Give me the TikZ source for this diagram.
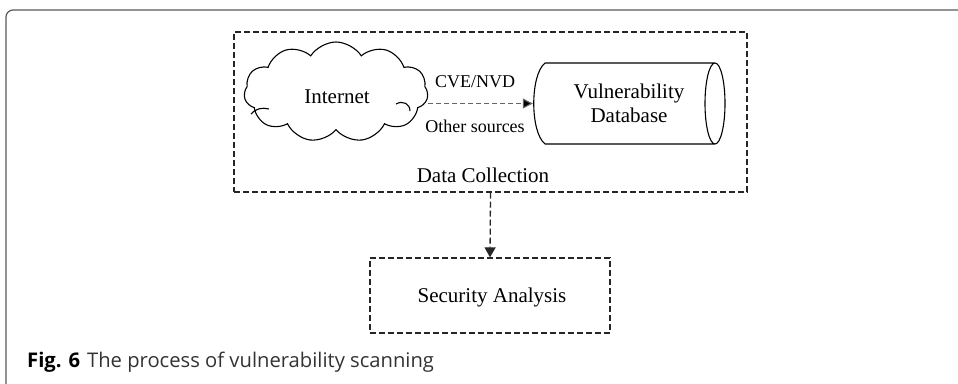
\documentclass[tikz,border=0pt]{standalone}
\usepackage{fontspec}
\setmainfont{Liberation Serif}
\newfontfamily\capfont{Open Sans}
\usetikzlibrary{arrows.meta,shapes.symbols}
\begin{document}
\begin{tikzpicture}[x=1pt,y=-1pt,
  dbox/.style={draw=black!85, line width=1.3pt, dash pattern=on 6pt off 3pt, inner sep=0pt},
  lbl/.style={font=\fontsize{21}{24}\selectfont, inner sep=0pt, align=center},
  small/.style={font=\fontsize{18}{21}\selectfont, inner sep=0pt},
  shapeline/.style={draw=black, line width=1.1pt}
]
\useasboundingbox (0,0) rectangle (958,383);
% outer frame
\draw[draw=black!65, line width=1.2pt, rounded corners=7pt] (6,386) -- (6,10) -- (965,10);
% data collection box
\node[dbox, minimum width=513pt, minimum height=160pt] (dc) at (490.5,112) {};
\node[lbl] (dclabel) at (483,175) {Data Collection};
% cloud
\node[cloud, shapeline, cloud puffs=11, cloud puff arc=115, aspect=1.9,
      minimum width=184pt, minimum height=100pt, inner sep=0pt] (cloud) at (336,92) {};
\draw[shapeline] (251,114) .. controls (255,109) and (262,107) .. (269,109);
\draw[shapeline] (396,104) .. controls (403,100) and (410,104) .. (410,111);
\node[lbl] (inet) at (337,97) {Internet};
% database cylinder
\node[lbl, minimum width=192pt, minimum height=81pt] (db) at (629,103.5) {Vulnerability\\Database};
\draw[shapeline] (545,63) -- (715,63)
  (715,144) -- (545,144)
  (545,63) .. controls (530,75) and (530,132) .. (545,144)
  (715,103.5) ellipse [x radius=10, y radius=40.5];
% arrow
\draw[draw=black!60, line width=1.1pt, dash pattern=on 5pt off 3pt,
      -{Triangle[width=10pt,length=10pt,fill=black]}] (db.west -| cloud.east) -- (db.west);
\node[small] (cve) at (475,82) {CVE/NVD};
\node[small] (other) at (475,126) {Other sources};
% security analysis
\node[dbox, minimum width=240pt, minimum height=75pt] (sa) at (490,295.5) {};
\node[lbl] (salabel) at (492,297) {Security Analysis};
\draw[dbox, -{Triangle[width=11pt,length=10pt]}] (dc.south) -- (sa.north);
% caption
\node[anchor=base west, inner sep=0pt, font=\capfont\fontsize{20.2}{22}\selectfont] (cap) at (27,367)
  {\textbf{Fig. 6}\hspace{7pt}\textcolor{black!80}{The process of vulnerability scanning}};
\end{tikzpicture}
\end{document}
